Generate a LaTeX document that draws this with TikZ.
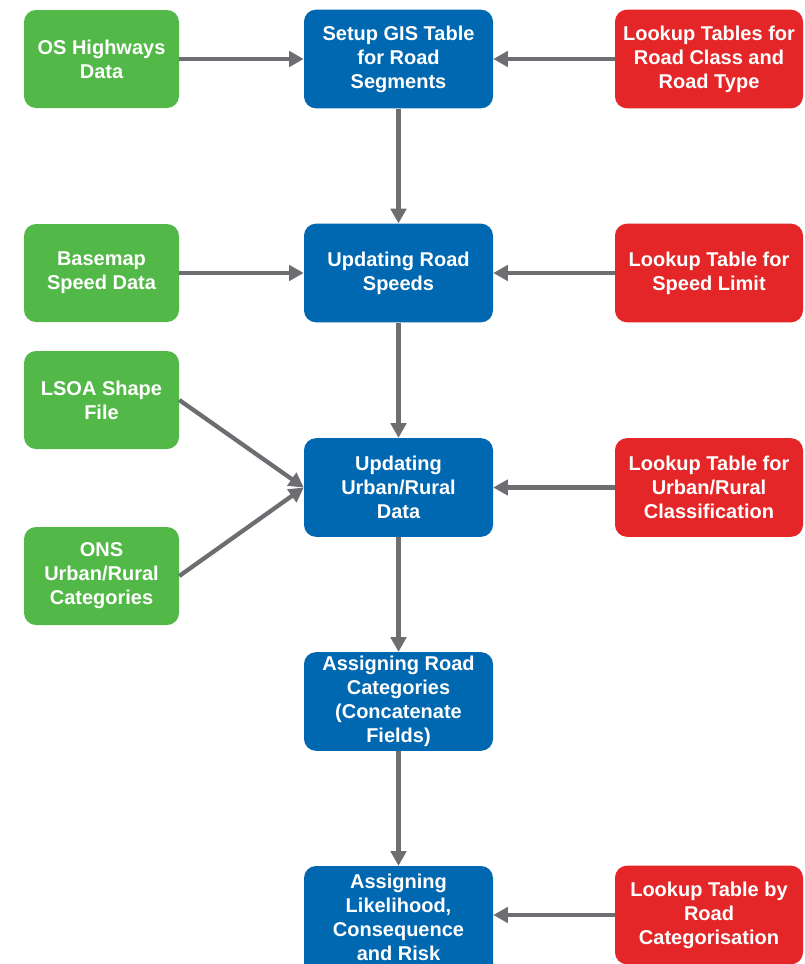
\documentclass[tikz,border=0pt]{standalone}
\usepackage{fontspec}
\setmainfont{Liberation Sans}
\usetikzlibrary{arrows.meta}
\definecolor{gbox}{HTML}{52B848}
\definecolor{bbox}{HTML}{0067B1}
\definecolor{rbox}{HTML}{E42628}
\definecolor{arr}{HTML}{6D6E71}
\tikzset{
  basebox/.style={rounded corners=9pt, text=white, align=center, inner sep=0pt,
    font=\fontsize{15}{18}\selectfont\bfseries,
    execute at begin node={\rule{0pt}{14.2pt}}},
  greenbox/.style={basebox, fill=gbox, minimum width=116.25pt, minimum height=73.5pt},
  bluebox/.style={basebox, fill=bbox, minimum width=141.75pt, minimum height=74pt},
  redbox/.style={basebox, fill=rbox, minimum width=141pt, minimum height=74pt},
  conn/.style={draw=arr, line width=3.2pt, -{Triangle[length=11pt,width=11.5pt]}}
}
\begin{document}
\begin{tikzpicture}[x=0.75pt,y=-0.75pt]
\clip (0,0) rectangle (804,964);
\fill[white] (0,0) rectangle (804,964);
% green
\node[greenbox] (os) at (101.5,59) {OS Highways\\Data};
\node[greenbox] (base) at (101.5,273) {Basemap\\Speed Data};
\node[greenbox] (lsoa) at (101.5,400) {LSOA Shape\\File};
\node[greenbox] (ons) at (101.5,576) {ONS\\Urban/Rural\\Categories};
% blue
\node[bluebox] (setup) at (398.5,59) {Setup GIS Table\\for Road\\Segments};
\node[bluebox] (speeds) at (398.5,273) {Updating Road\\Speeds};
\node[bluebox] (urban) at (398.5,487.5) {Updating\\Urban/Rural\\Data};
\node[bluebox] (cats) at (398.5,701.5) {Assigning Road\\Categories\\(Concatenate\\Fields)};
\node[bluebox, minimum height=100pt] (risk) at (398.5,932.7) {};
\node[basebox] (risktext) at (398.5,917) {Assigning\\Likelihood,\\Consequence\\and Risk};
% red
\node[redbox] (lk1) at (709,59) {Lookup Tables for\\Road Class and\\Road Type};
\node[redbox] (lk2) at (709,273) {Lookup Table for\\Speed Limit};
\node[redbox] (lk3) at (709,487.5) {Lookup Table for\\Urban/Rural\\Classification};
\node[redbox] (lk4) at (709,915) {Lookup Table by\\Road\\Categorisation};
% connectors
\draw[conn] (os.east) -- (setup.west);
\draw[conn] (lk1.west) -- (setup.east);
\draw[conn] (setup.south) -- (speeds.north);
\draw[conn] (base.east) -- (speeds.west);
\draw[conn] (lk2.west) -- (speeds.east);
\draw[conn] (speeds.south) -- (urban.north);
\draw[conn] (lsoa.east) -- (urban.west);
\draw[conn] (ons.east) -- (urban.west);
\draw[conn] (lk3.west) -- (urban.east);
\draw[conn] (urban.south) -- (cats.north);
\draw[conn] (cats.south) -- (risk.north);
\draw[conn] (lk4.west) -- (risk.east |- lk4.west);
\end{tikzpicture}
\end{document}
